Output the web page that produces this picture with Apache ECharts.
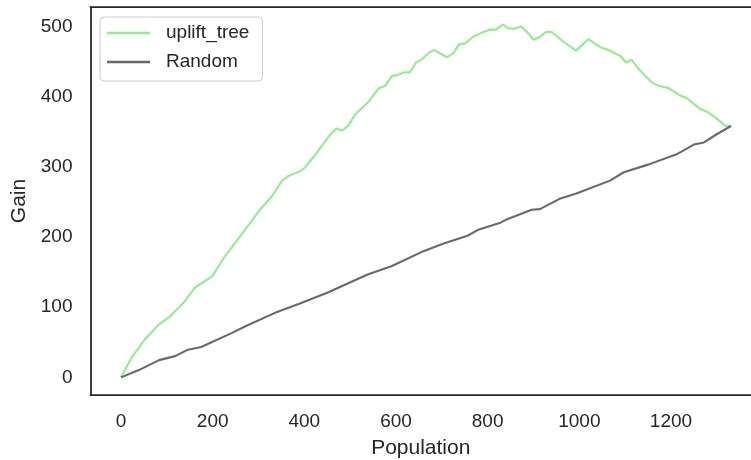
<!DOCTYPE html>
<html>
<head>
<meta charset="utf-8">
<script src="https://cdn.jsdelivr.net/npm/echarts@6/dist/echarts.min.js"></script>
<style>
  html, body { margin: 0; padding: 0; background: #ffffff; }
  #chart { width: 751px; height: 460px; }
</style>
</head>
<body>
<div id="chart"></div>
<script>
// Cumulative gain of the uplift tree model against a random targeting baseline
const popUplift = [0, 23, 52, 81, 107, 136, 161, 180, 199, 227, 260, 303, 329, 351, 365,
  391, 401, 427, 456, 470, 483, 496, 511, 540, 562, 577, 591, 603, 617, 630,
  644, 657, 672, 683, 711, 725, 738, 750, 767, 785, 806, 818, 833, 845, 858,
  873, 887, 900, 913, 927, 940, 967, 993, 1020, 1034, 1049, 1060, 1089, 1102, 1114,
  1129, 1147, 1158, 1172, 1194, 1220, 1234, 1263, 1281, 1300, 1318, 1331];
const gainUplift = [0, 28, 54, 74.5, 87, 106, 128, 136, 144, 173, 201, 239, 258, 280, 287,
  294, 299, 320, 346, 355, 352, 359, 375, 393, 412, 416, 430, 431, 435, 435,
  449, 454, 463, 467, 456.5, 462.5, 475, 476, 485, 491, 496, 496, 503, 498, 497,
  500.5, 492, 481.5, 485, 492.5, 492.5, 477.6, 466, 482.5, 476, 470, 468, 458.7, 449, 453,
  440, 428, 420.7, 416, 412.7, 402, 398.4, 383, 378, 369, 359, 358.5];

const popRandom = [0, 39, 83, 118, 144, 175, 240, 275, 336, 389, 450, 538, 590, 660, 704,
  756, 778, 826, 844, 896, 914, 957, 992, 1067, 1097, 1150, 1211, 1250, 1272, 1298, 1331];
const gainRandom = [0, 10.4, 24.6, 30.3, 38.9, 43.2, 62.7, 74, 92, 105, 120.7, 146.7, 158.5, 180, 191,
  202, 210, 220, 226, 239, 240, 254.6, 262, 280.6, 292.5, 303.4, 317.7, 332, 335, 346, 358.5];

const xTicks = [0, 200, 400, 600, 800, 1000, 1200];
const yTicks = [0, 100, 200, 300, 400, 500];

const seriesNames = ['uplift_tree', 'Random'];

const pairs = (xs, ys) => xs.map((x, i) => [x, ys[i]]);

const ink = '#262626';
const fontFamily = '"Liberation Sans", Arial, Helvetica, sans-serif';
const spine = { show: true, onZero: false, lineStyle: { color: ink, width: 1.75 } };

const chart = echarts.init(document.getElementById('chart'), null, { renderer: 'canvas' });
chart.setOption({
  backgroundColor: '#ffffff',
  animation: false,
  textStyle: { fontFamily: fontFamily, color: ink },
  // the plot area runs past the right edge of the canvas, so there is no right spine
  grid: { left: 90.5, right: 0, top: 7, bottom: 65, show: false, outerBoundsMode: 'none', containLabel: false },
  legend: {
    orient: 'vertical',
    left: 100, top: 17,
    padding: [5, 13, 8, 7],
    itemGap: 7,
    itemWidth: 43, itemHeight: 2.5,
    icon: 'rect',
    backgroundColor: 'rgba(255,255,255,0.8)',
    borderColor: '#cccccc', borderWidth: 1, borderRadius: 4,
    textStyle: { fontSize: 19, color: ink, lineHeight: 22, padding: [0, 0, 0, 11], fontFamily: fontFamily },
    data: seriesNames
  },
  xAxis: [
    {
      type: 'value',
      position: 'bottom',
      min: -66.55, max: 1374.6,
      name: 'Population',
      nameLocation: 'middle',
      nameGap: 43,
      nameTextStyle: { fontSize: 21, color: ink, fontFamily: fontFamily },
      axisLine: spine,
      axisTick: { show: false },
      splitLine: { show: false },
      axisLabel: {
        customValues: xTicks, fontSize: 19, color: ink, margin: 17, fontFamily: fontFamily,
        formatter: (v) => String(v)
      }
    },
    {
      type: 'value',
      position: 'top',
      min: -66.55, max: 1374.6,
      axisLine: spine,
      axisTick: { show: false },
      splitLine: { show: false },
      axisLabel: { show: false }
    }
  ],
  yAxis: {
    type: 'value',
    min: -25.15, max: 528.2,
    name: 'Gain',
    nameLocation: 'middle',
    nameGap: 50,
    nameTextStyle: { fontSize: 21, color: ink, fontFamily: fontFamily },
    axisLine: spine,
    axisTick: { show: false },
    splitLine: { show: false },
    axisLabel: {
      customValues: yTicks, fontSize: 19, color: ink, margin: 18, fontFamily: fontFamily,
      formatter: (v) => String(v)
    }
  },
  series: [
    {
      name: seriesNames[0],
      type: 'line',
      data: pairs(popUplift, gainUplift),
      showSymbol: false,
      color: '#90ee90',
      lineStyle: { width: 2.1, color: '#90ee90' },
      z: 2
    },
    {
      name: seriesNames[1],
      type: 'line',
      data: pairs(popRandom, gainRandom),
      showSymbol: false,
      color: '#696969',
      lineStyle: { width: 2.1, color: '#696969' },
      z: 3
    }
  ]
});
</script>
</body>
</html>
